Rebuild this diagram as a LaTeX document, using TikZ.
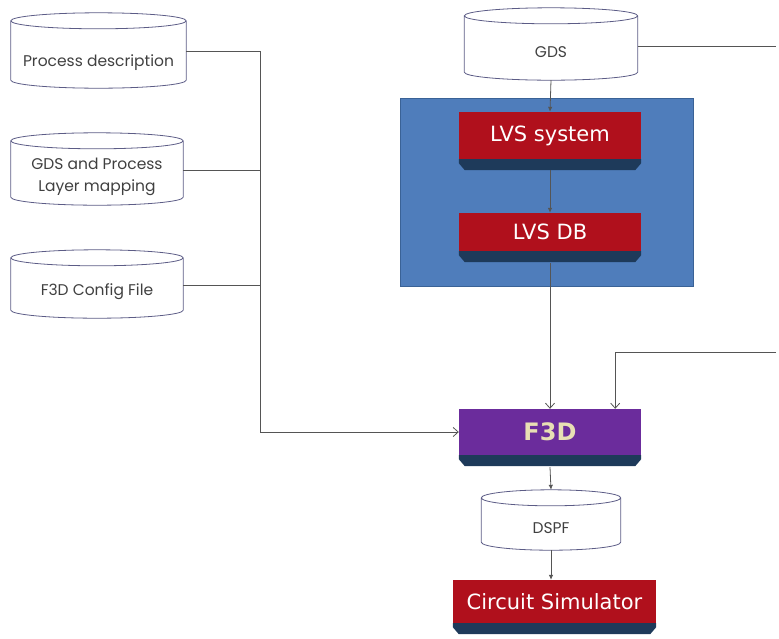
\documentclass[tikz,border=0pt]{standalone}
\usepackage{fontspec}
\setmainfont{DejaVu Sans}
\newfontfamily\cylfont{Poppins}
\usetikzlibrary{arrows.meta, calc}

\definecolor{boxred}{HTML}{B0101C}
\definecolor{boxnavy}{HTML}{1E3A5A}
\definecolor{boxpurple}{HTML}{6B2C9C}
\definecolor{lvsblue}{HTML}{4F7DBB}
\definecolor{lvsedge}{HTML}{3A6296}
\definecolor{wiregray}{HTML}{555555}
\definecolor{cyledge}{HTML}{5C5C86}
\definecolor{ftdgold}{HTML}{E8DFB4}

\tikzset{
  dbtext/.style={font=\cylfont\fontsize{15.5}{22}\selectfont, text=black!75, align=center, inner sep=0pt},
  toolbox/.style={fill=boxred, text=white, font=\fontsize{21}{24}\selectfont, minimum width=182pt, inner sep=0pt},
  wire/.style={draw=wiregray, line width=0.8pt},
  fedge/.style={wire, -{Latex[length=5pt,width=4.5pt]}},
  oedge/.style={wire, -{Straight Barb[length=5pt,width=9pt]}},
}

\begin{document}
\begin{tikzpicture}[x=1pt, y=-1pt]
\useasboundingbox (0,0) rectangle (779,638);
\draw[fill=lvsblue, draw=lvsedge, line width=1pt] (400,98) rectangle (693,286);

% data files
\node[dbtext, minimum width=175pt, minimum height=59pt, text height=20pt] (pdesc) at (98.5,58.5) {Process description};
\node[dbtext, minimum width=172pt, minimum height=56pt] (gdsmap) at (97,177) {GDS and Process\\Layer mapping};
\node[dbtext, minimum width=172pt, minimum height=52pt] (cfg) at (97,292) {F3D Config File};
\node[dbtext, minimum width=173pt, minimum height=56pt] (gds) at (551,52) {GDS};
\node[dbtext, minimum width=139pt, minimum height=44pt] (dspf) at (551,528) {DSPF};

% tools
\node[toolbox, minimum height=47pt] (lvs) at (550,135.5) {LVS system};
\node[toolbox, minimum height=38pt] (lvsdb) at (550,232) {LVS DB};
\node[toolbox, fill=boxpurple, text=ftdgold, font=\bfseries\fontsize{24}{28}\selectfont, minimum height=46pt] (f3d) at (550,432) {F3D};
\node[toolbox, minimum width=203pt, minimum height=43pt] (sim) at (554.5,601.5) {Circuit Simulator};

\foreach \nm in {lvs,lvsdb,f3d,sim}
  \fill[boxnavy] (\nm.south west) -- (\nm.south east) -- ++(0,4) -- ++(-6,7)
    -- ($(\nm.south west)+(6,11)$) -- ++(-6,-7) -- cycle;

\foreach \nm in {pdesc,gdsmap,cfg,gds,dspf}
  \draw[cyledge, line width=0.8pt] let \p1=(\nm.north west), \p2=(\nm.south east), \n1={(\x2-\x1)/2} in
    (\x1,\y1+8pt) -- (\x1,\y2+8pt) arc[start angle=180, end angle=360, x radius=\n1, y radius=8pt]
    -- (\x2,\y1+8pt) arc[start angle=0, end angle=360, x radius=\n1, y radius=8pt];

% connectors
\coordinate (bend) at (260,432);
\coordinate (gdsout) at (776,46);
\coordinate (feedin) at (776,352);
\draw[oedge] ([yshift=7pt]pdesc.east) -| (bend) -- (f3d.west);
\draw[wire] ([yshift=7pt]gdsmap.east) -| (bend);
\draw[wire] ([yshift=7pt]cfg.east) -| (bend);
\draw[wire] ([yshift=6pt]gds.east) -- (gdsout);
\draw[oedge] (feedin) -| ([xshift=-26pt]f3d.north east);
\draw[fedge] (gds.south) -- (lvs.north);
\draw[fedge] ([yshift=-11pt]lvs.south) -- (lvsdb.north);
\draw[oedge] ([yshift=-12pt]lvsdb.south) -- (f3d.north);
\draw[fedge] ([yshift=-12pt]f3d.south) -- ([yshift=16pt]dspf.north);
\draw[fedge] (dspf.south) -- (dspf.south |- sim.north);
\end{tikzpicture}
\end{document}
